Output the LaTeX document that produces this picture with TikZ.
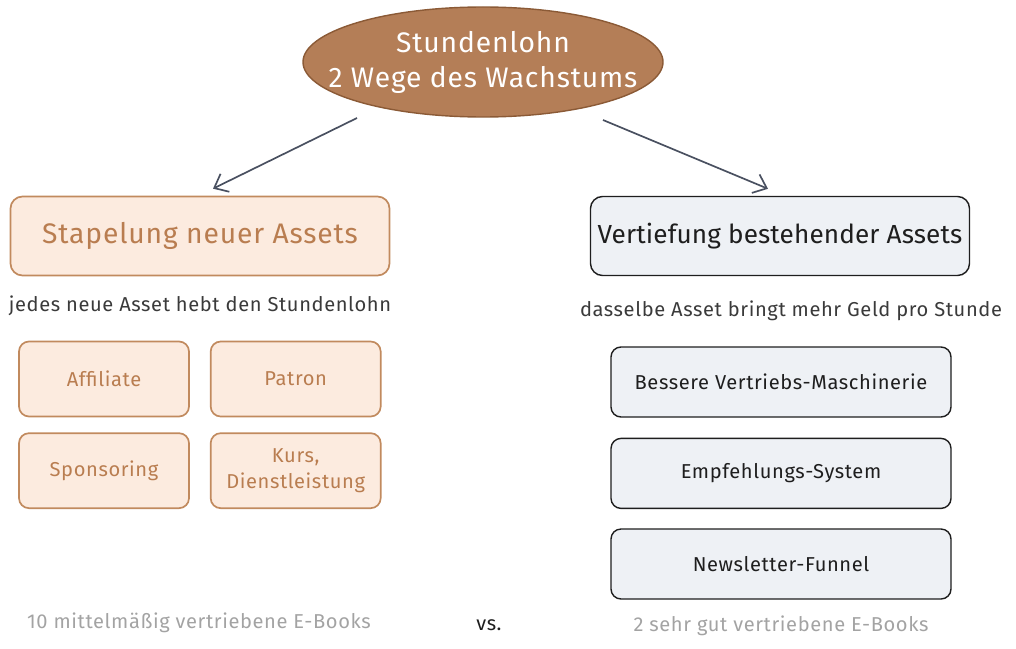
\documentclass[tikz,border=0pt]{standalone}
\usepackage{fontspec}
\setmainfont[LetterSpace=3]{Fira Sans}
\usetikzlibrary{positioning,arrows.meta,shapes.geometric}
\definecolor{copper}{HTML}{B47E57}
\definecolor{copperdark}{HTML}{8B5A36}
\definecolor{clay}{HTML}{C18A5E}
\definecolor{claytext}{HTML}{B97D50}
\definecolor{sand}{HTML}{FCEBDF}
\definecolor{ink}{HTML}{1E1E1E}
\definecolor{mist}{HTML}{EEF1F5}
\definecolor{slate}{HTML}{495060}
\definecolor{muted}{HTML}{A3A3A3}
\definecolor{sub}{HTML}{3A3A3A}

\begin{document}
\begin{tikzpicture}[
  bigfont/.style={font=\fontsize{20.1}{25}\selectfont},
  midfont/.style={font=\fontsize{14.3}{18}\selectfont},
  warm/.style={draw=clay,line width=1.2pt,fill=sand,text=claytext,rounded corners=0.3cm},
  cool/.style={draw=ink,line width=1pt,fill=mist,text=ink,rounded corners=0.3cm},
  head/.style={bigfont,minimum width=9.475cm,minimum height=1.975cm,inner xsep=0.05cm},
  tile/.style={midfont,align=center,minimum width=4.25cm,minimum height=1.875cm,rounded corners=0.25cm},
  bar/.style={midfont,minimum width=8.5cm,minimum height=1.75cm,rounded corners=0.25cm},
  note/.style={midfont,text=sub},
  tail/.style={font=\fontsize{14.3}{17}\selectfont,text=muted},
  arr/.style={-{Straight Barb[length=3mm,width=5mm]},line width=1.2pt,draw=slate}]
  \useasboundingbox (0,0) rectangle (25.4,-16.225);
  \node[ellipse,draw=copperdark,line width=1pt,fill=copper,
    minimum width=9cm,minimum height=2.75cm,inner sep=0pt] (top) at (12.075,-1.55) {};
  \node[text=white,bigfont,align=center] (toptext) at (top.center) {Stundenlohn\\2 Wege des Wachstums};
  \node[warm,head] (stack) at (5.0,-5.9) {Stapelung neuer Assets};
  \node[cool,head,font=\fontsize{18.6}{25}\selectfont] (deep) at (19.5,-5.9) {\addfontfeature{LetterSpace=0.5}Vertiefung bestehender Assets};
  \draw[arr] ([xshift=-3.15cm,yshift=-1.4cm]top.center) -- ([xshift=0.325cm,yshift=0.175cm]stack.north);
  \draw[arr] ([xshift=3.0cm,yshift=-1.45cm]top.center) -- ([xshift=-0.3cm,yshift=0.175cm]deep.north);
  \node[note,below=0.36cm of stack] (stacknote) {jedes neue Asset hebt den Stundenlohn};
  \node[note,below=0.5cm of deep,xshift=0.275cm] (deepnote) {dasselbe Asset bringt mehr Geld pro Stunde};
  \node[warm,tile] (aff) at (2.6,-9.475) {Affiliate};
  \node[warm,tile,right=0.5cm of aff] (patron) {Patron};
  \node[warm,tile,below=0.375cm of aff] (spons) {Sponsoring};
  \node[warm,tile,right=0.5cm of spons] (kurs) {Kurs,\\Dienstleistung};
  \node[cool,bar] (machine) at (19.525,-9.55) {Bessere Vertriebs-Maschinerie};
  \node[cool,bar,below=0.5cm of machine] (referral) {Empfehlungs-System};
  \node[cool,bar,below=0.48cm of referral] (funnel) {Newsletter-Funnel};
  \node[tail] (many) at (4.975,-15.575) {10 mittelmäßig vertriebene E-Books};
  \node[tail,text=ink] (vs) at (12.225,-15.625) {vs.};
  \node[tail] (few) at (19.525,-15.65) {2 sehr gut vertriebene E-Books};
\end{tikzpicture}
\end{document}
